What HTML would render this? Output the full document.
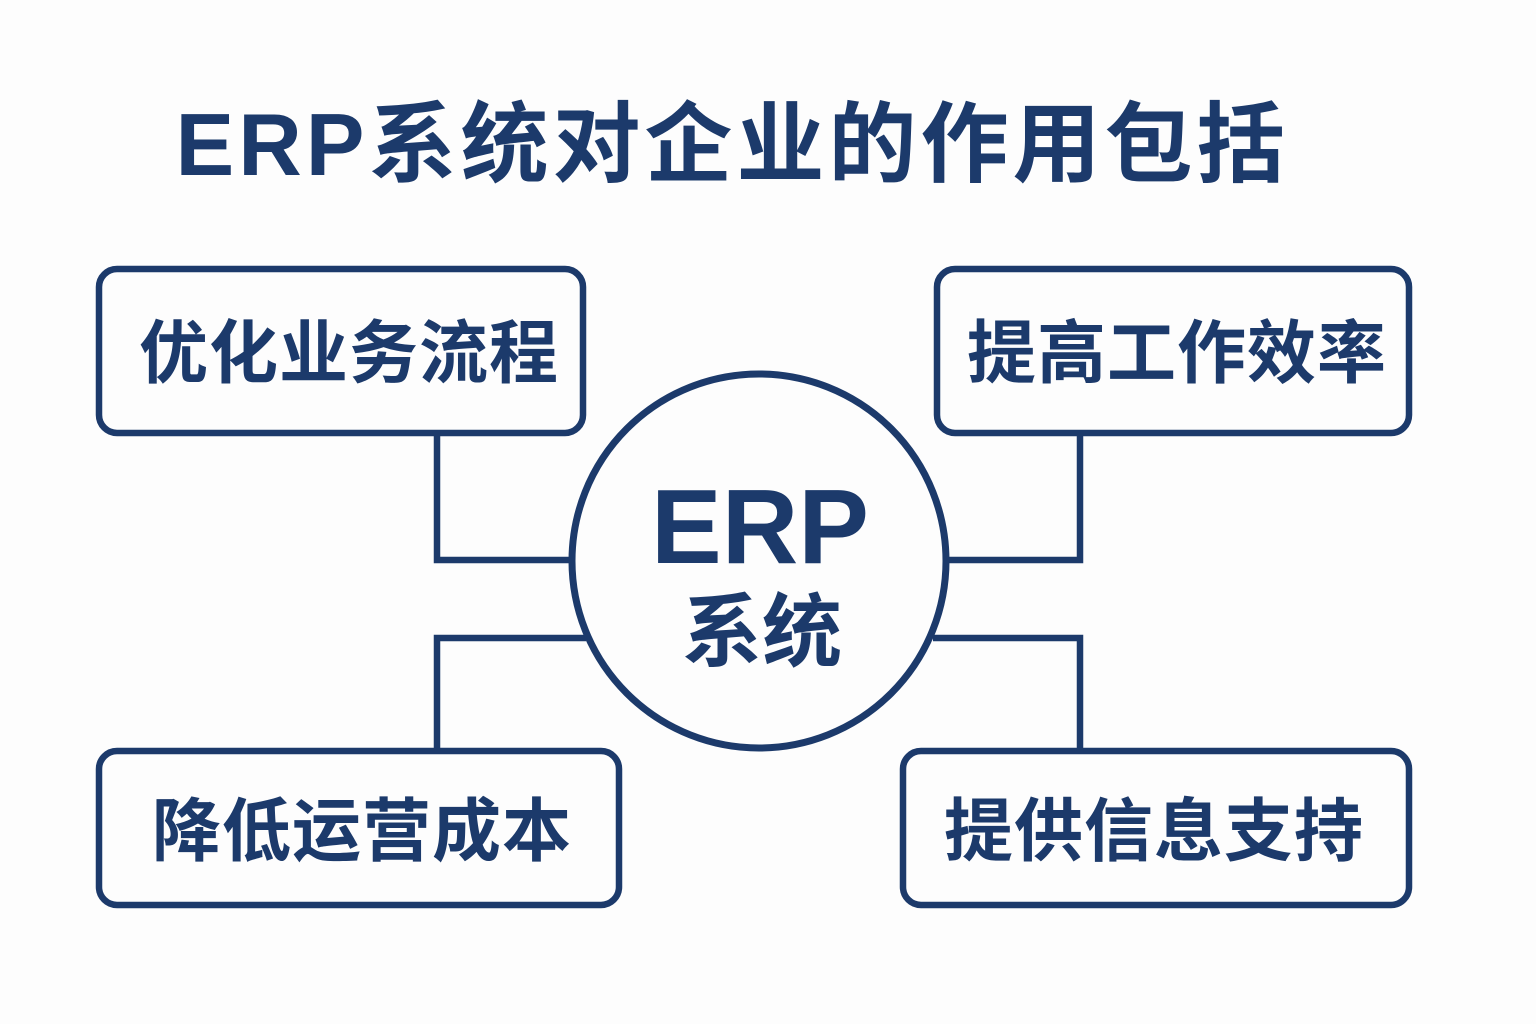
<!DOCTYPE html>
<html><head><meta charset="utf-8"><style>
html,body{margin:0;padding:0;background:#fdfdfd;}
svg{display:block;}
text{font-family:"Liberation Sans","Noto Sans CJK SC",sans-serif;font-weight:bold;fill:#1c3a6b;}
</style></head><body>
<svg width="1536" height="1024" viewBox="0 0 1536 1024" xmlns="http://www.w3.org/2000/svg">
<rect width="1536" height="1024" fill="#fdfdfd"/>
<text x="732" y="175" font-size="88" text-anchor="middle" letter-spacing="4">ERP系统对企业的作用包括</text>
<g fill="none" stroke="#1c3a6b" stroke-width="6.5">
<rect x="99" y="269" width="484" height="164" rx="18"/>
<rect x="937" y="269" width="472" height="164" rx="18"/>
<rect x="99" y="751" width="520" height="154" rx="18"/>
<rect x="903" y="751" width="506" height="154" rx="18"/>
<polyline points="437,433 437,560 570,560"/>
<polyline points="1080,433 1080,560 948,560"/>
<polyline points="437,751 437,638 586,638"/>
<polyline points="1080,751 1080,638 933,638"/>
<circle cx="759" cy="561" r="187" stroke-width="7" fill="#fdfdfd"/>
</g>
<text x="349" y="377" font-size="69" text-anchor="middle" letter-spacing="1">优化业务流程</text>
<text x="1177" y="377" font-size="69" text-anchor="middle" letter-spacing="1">提高工作效率</text>
<text x="362" y="855" font-size="69" text-anchor="middle" letter-spacing="1">降低运营成本</text>
<text x="1154" y="855" font-size="69" text-anchor="middle" letter-spacing="1">提供信息支持</text>
<text x="760" y="563" font-size="106" text-anchor="middle">ERP</text>
<text x="762" y="660" font-size="80" text-anchor="middle">系统</text>
</svg>
</body></html>
